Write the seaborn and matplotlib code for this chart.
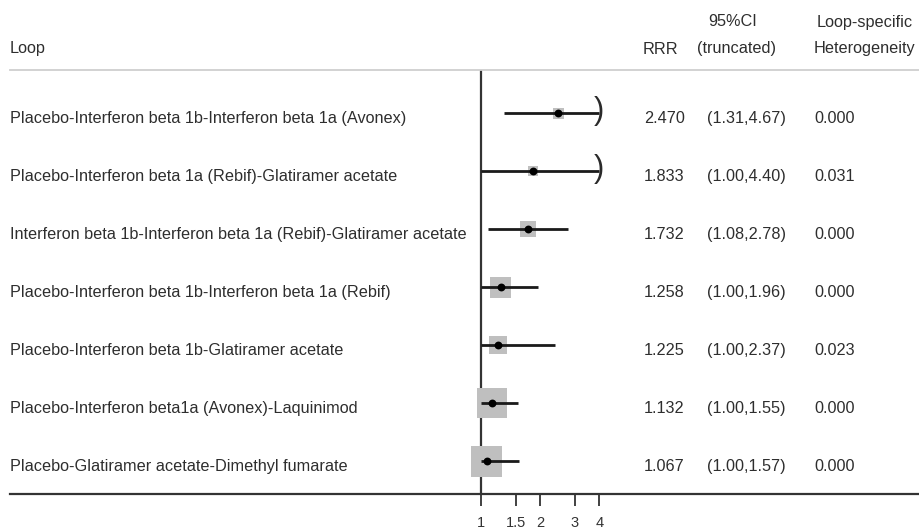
import numpy as np
import pandas as pd
import matplotlib
matplotlib.use("Agg")
import matplotlib.pyplot as plt
import matplotlib.transforms as mtransforms
import seaborn as sns

# Loop-specific ratio of ratios (inconsistency) results
loops = [
    "Placebo-Interferon beta 1b-Interferon beta 1a (Avonex)",
    "Placebo-Interferon beta 1a (Rebif)-Glatiramer acetate",
    "Interferon beta 1b-Interferon beta 1a (Rebif)-Glatiramer acetate",
    "Placebo-Interferon beta 1b-Interferon beta 1a (Rebif)",
    "Placebo-Interferon beta 1b-Glatiramer acetate",
    "Placebo-Interferon beta1a (Avonex)-Laquinimod",
    "Placebo-Glatiramer acetate-Dimethyl fumarate",
]
rrr = [2.470, 1.833, 1.732, 1.258, 1.225, 1.132, 1.067]
ci_low = [1.31, 1.00, 1.08, 1.00, 1.00, 1.00, 1.00]
ci_high = [4.67, 4.40, 2.78, 1.96, 2.37, 1.55, 1.57]
heterogeneity = [0.000, 0.031, 0.000, 0.000, 0.023, 0.000, 0.000]
weight = [11, 10, 16, 21, 18, 30, 31]  # box side, relative weight
x_ticks = [1, 1.5, 2, 3, 4]
x_tick_labels = ["1", "1.5", "2", "3", "4"]
truncate_at = 4

W, H = 920, 529


def fx(px):
    return px / W


def fy(py):
    return 1 - py / H


sns.set_style("white")
plt.rcParams['font.family'] = ['Liberation Sans', 'DejaVu Sans']

df = pd.DataFrame({
    'loop': loops,
    'row': np.arange(len(loops)),
    'rrr': rrr,
    'lo': ci_low,
    'hi': ci_high,
    'het': heterogeneity,
    'weight': weight,
})

fig = plt.figure(figsize=(W / 100, H / 100), dpi=100)
ax = fig.add_axes([fx(10), fy(494), fx(920) - fx(10), fy(70) - fy(494)])

# log axis: x=1 at pixel 481, 85.3 px per ln unit
k = 85.3
ax.set_xscale('log')
ax.set_xlim(np.exp(-(481 - 10) / k), np.exp((920 - 481) / k))
y0, dy = 113, 58
ax.set_ylim((494 - y0) / dy, (70 - y0) / dy)

ax.axvline(1, color='#333333', lw=1.6, zorder=1)

# weight boxes
sizes = {w: (w * 0.72) ** 2 for w in weight}
sns.scatterplot(data=df, x='rrr', y='row', size='weight', sizes=sizes,
                marker='s', color='#bfbfbf', linewidth=0, legend=False,
                ax=ax, zorder=2)

# confidence intervals, truncated at 4
ax.hlines(df['row'], df['lo'], df['hi'].clip(upper=truncate_at),
          color='#1a1a1a', lw=2, zorder=3)
for _, r in df[df['hi'] > truncate_at].iterrows():
    ax.text(truncate_at, r['row'] - 0.03, ")", fontsize=22, ha='center',
            va='center', color='#2a2a2a', zorder=3)

sns.scatterplot(data=df, x='rrr', y='row', color='black', s=32,
                marker='o', linewidth=0, ax=ax, zorder=4)

# axis styling
ax.spines['left'].set_visible(False)
ax.spines['right'].set_visible(False)
ax.spines['top'].set_color('#cfcfcf')
ax.spines['top'].set_linewidth(1.3)
ax.spines['bottom'].set_color('#333333')
ax.spines['bottom'].set_linewidth(1.6)
ax.set_xticks(x_ticks)
ax.set_xticklabels(x_tick_labels)
ax.xaxis.set_minor_locator(matplotlib.ticker.NullLocator())
ax.set_yticks([])
ax.tick_params(axis='x', bottom=True, length=8.5, width=1.3, color='#333333',
               labelsize=10.5, labelcolor='#333333', pad=7)
ax.set_xlabel("")
ax.set_ylabel("")

# table text
fs = 11.7
tr = mtransforms.blended_transform_factory(fig.transFigure, ax.transData)
txt = dict(fontsize=fs, color='#2e2e2e', va='center', transform=tr)
for _, r in df.iterrows():
    y = r['row'] + 0.09
    ax.text(fx(10), y, r['loop'], **txt)
    ax.text(fx(644), y, f"{r['rrr']:.3f}", **txt)
    ax.text(fx(707), y, f"({r['lo']:.2f},{r['hi']:.2f})", **txt)
    ax.text(fx(814), y, f"{r['het']:.3f}", **txt)

hdr = dict(fontsize=fs, color='#2e2e2e', va='center')
fig.text(fx(10), fy(49), "Loop", **hdr)
fig.text(fx(643), fy(49), "RRR", **hdr)
fig.text(fx(708), fy(22), "95%CI", **hdr)
fig.text(fx(697), fy(49), "(truncated)", **hdr)
fig.text(fx(817), fy(22), "Loop-specific", **hdr)
fig.text(fx(814), fy(49), "Heterogeneity", **hdr)

plt.savefig("out.png", dpi=100)
plt.close()
